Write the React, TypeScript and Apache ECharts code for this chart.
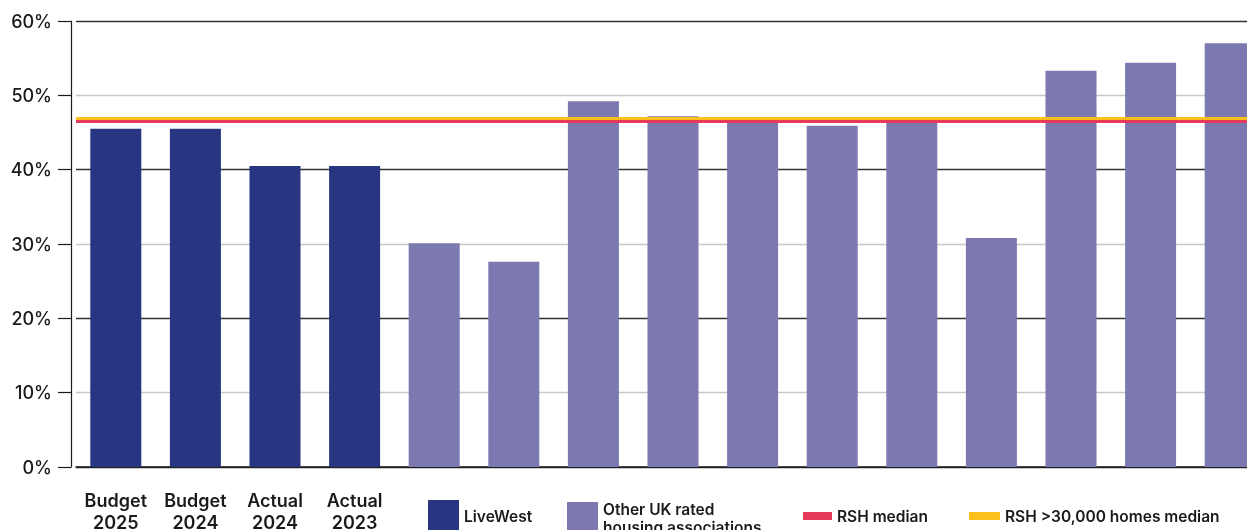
import React, { useEffect, useRef } from "react";
import * as echarts from "echarts";

const categories = [
  "Budget\n2025",
  "Budget\n2024",
  "Actual\n2024",
  "Actual\n2023",
  "HA 1",
  "HA 2",
  "HA 3",
  "HA 4",
  "HA 5",
  "HA 6",
  "HA 7",
  "HA 8",
  "HA 9",
  "HA 10",
  "HA 11",
];
const shownLabels = ["Budget\n2025", "Budget\n2024", "Actual\n2024", "Actual\n2023"];
const liveWest: (number | string)[] = [45.5, 45.5, 40.5, 40.5, "-", "-", "-", "-", "-", "-", "-", "-", "-", "-", "-"];
const otherHA: (number | string)[] = ["-", "-", "-", "-", 30.1, 27.6, 49.2, 47.2, 47.1, 45.9, 46.5, 30.8, 53.3, 54.4, 57.0];
const rshMedian = 46.5;
const rshLargeMedian = 46.9;
const yTicks = { min: 0, max: 60, interval: 10 };

const NAVY = "#283581";
const PURPLE = "#7b79af";
const RED = "#e53a59";
const YELLOW = "#fbc01a";
const FONT = "Inter, 'Noto Sans', sans-serif";

export default function App() {
  const ref = useRef<HTMLDivElement>(null);
  useEffect(() => {
    if (!ref.current) return;
    const chart = echarts.init(ref.current, null, { renderer: "svg" });
    const legendText = { fontFamily: FONT, fontSize: 15.5, fontWeight: 600, color: "#1a1a1a", lineHeight: 18 };
    chart.setOption({
      animation: false,
      textStyle: { fontFamily: FONT },
      grid: { left: 76, top: 21, width: 1194, height: 446, containLabel: false, outerBoundsMode: "none" },
      legend: [
        { data: [{ name: "LiveWest", icon: "rect" }], left: 428, top: 500, padding: 0, itemWidth: 31, itemHeight: 32, textStyle: legendText, selectedMode: false },
        {
          data: [{ name: "Other UK rated housing associations", icon: "rect" }],
          left: 567,
          top: 500,
          padding: 0,
          itemWidth: 31,
          itemHeight: 32,
          textStyle: legendText,
          selectedMode: false,
          formatter: (n: string) => "Other UK rated\nhousing associations",
        },
        { data: [{ name: "RSH median", icon: "rect" }], left: 803, top: 507, padding: 0, itemWidth: 29, itemHeight: 8, textStyle: legendText, selectedMode: false },
        { data: [{ name: "RSH >30,000 homes median", icon: "rect" }], left: 969, top: 507, padding: 0, itemWidth: 31, itemHeight: 8, textStyle: legendText, selectedMode: false },
      ],
      xAxis: {
        type: "category",
        data: categories,
        axisLine: { show: true, lineStyle: { color: "#1a1a1a", width: 1.5 } },
        axisTick: { show: false },
        axisLabel: {
          interval: 0,
          margin: 22,
          fontFamily: FONT,
          fontSize: 18,
          fontWeight: 600,
          lineHeight: 22,
          color: "#1a1a1a",
          formatter: (v: string) => (shownLabels.includes(v) ? v : ""),
        },
        splitLine: { show: false },
      },
      yAxis: {
        type: "value",
        min: yTicks.min,
        max: yTicks.max,
        interval: yTicks.interval,
        offset: 5,
        axisLine: { show: true, lineStyle: { color: "#1a1a1a", width: 1.2 } },
        axisTick: { show: true, inside: false, length: 13, lineStyle: { color: "#1a1a1a", width: 1.2 } },
        axisLabel: {
          margin: 19,
          fontFamily: FONT,
          fontSize: 18,
          fontWeight: 500,
          color: "#1a1a1a",
          formatter: (v: number) => v + "%",
        },
        splitLine: { show: true, lineStyle: { color: ["#333333", "#c8c8c8"], width: 1.3 } },
      },
      series: [
        { name: "LiveWest", type: "bar", stack: "all", data: liveWest, barWidth: 51, itemStyle: { color: NAVY } },
        { name: "Other UK rated housing associations", type: "bar", stack: "all", data: otherHA, barWidth: 51, itemStyle: { color: PURPLE } },
        {
          name: "RSH >30,000 homes median",
          type: "line",
          data: [],
          z: 5,
          color: YELLOW,
          itemStyle: { color: YELLOW },
          lineStyle: { color: YELLOW },
          markLine: {
            silent: true,
            symbol: "none",
            label: { show: false },
            lineStyle: { color: YELLOW, width: 3, type: "solid" },
            data: [{ yAxis: rshLargeMedian }],
          },
        },
        {
          name: "RSH median",
          type: "line",
          data: [],
          z: 6,
          color: RED,
          itemStyle: { color: RED },
          lineStyle: { color: RED },
          markLine: {
            silent: true,
            symbol: "none",
            label: { show: false },
            lineStyle: { color: RED, width: 3, type: "solid" },
            data: [{ yAxis: rshMedian }],
          },
        },
      ],
    });
    return () => chart.dispose();
  }, []);
  return <div ref={ref} style={{ position: "fixed", left: 0, top: 0, width: 1247, height: 530 }} />;
}
